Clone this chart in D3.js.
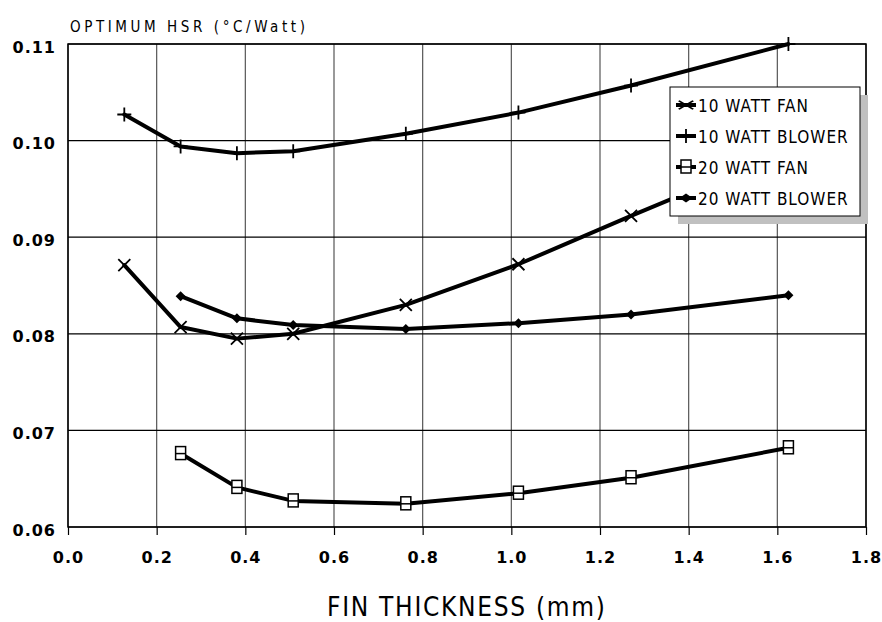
<!DOCTYPE html>
<html>
<head>
<meta charset="utf-8">
<script src="https://cdn.jsdelivr.net/npm/d3@7"></script>
<style>
  body { margin: 0; background: #fff; }
  text { font-family: "DejaVu Sans Condensed", "DejaVu Sans", sans-serif; fill: #000; }
</style>
</head>
<body>
<svg id="chart" width="882" height="622"></svg>
<script>
// fin thickness values (mm)
var thickness = [0.127, 0.254, 0.381, 0.508, 0.762, 1.016, 1.27, 1.625];

var fan10 = [0.0871, 0.0807, 0.0795, 0.0800, 0.0830, 0.0872, 0.0922, 0.0990];
var blower10 = [0.1027, 0.0994, 0.0987, 0.0989, 0.1007, 0.1029, 0.1057, 0.1100];
var fan20 = [null, 0.0676, 0.0641, 0.0627, 0.0624, 0.0635, 0.0651, 0.0682];
var blower20 = [null, 0.0839, 0.0816, 0.0809, 0.0805, 0.0811, 0.0820, 0.0840];

var seriesNames = ["10 WATT FAN", "10 WATT BLOWER", "20 WATT FAN", "20 WATT BLOWER"];
var seriesMarks = ["x", "plus", "square", "diamond"];
var xTicks = [0.0, 0.2, 0.4, 0.6, 0.8, 1.0, 1.2, 1.4, 1.6, 1.8];
var yTicks = [0.06, 0.07, 0.08, 0.09, 0.10, 0.11];

var svg = d3.select("#chart"),
  margin = {top: 44, right: 16, bottom: 95, left: 68},
  width = 866 - margin.left,
  height = 527 - margin.top,
  g = svg.append("g").attr("transform", "translate(" + margin.left + "," + margin.top + ")");

var x = d3.scaleLinear().domain([0, 1.8]).range([0, width]);
var y = d3.scaleLinear().domain([0.06, 0.11]).range([height, 0]);

// grid
g.selectAll(".vgrid").data(xTicks).enter().append("line")
  .attr("x1", function(d) { return x(d); }).attr("x2", function(d) { return x(d); })
  .attr("y1", 0).attr("y2", height)
  .attr("stroke", "#555").attr("stroke-width", 1.2);
g.selectAll(".hgrid").data(yTicks).enter().append("line")
  .attr("x1", 0).attr("x2", width)
  .attr("y1", function(d) { return y(d); }).attr("y2", function(d) { return y(d); })
  .attr("stroke", "#000").attr("stroke-width", 1.2);

// axes
var xAxis = g.append("g")
  .attr("transform", "translate(0," + height + ")")
  .call(d3.axisBottom(x).tickValues(xTicks).tickFormat(d3.format(".1f")).tickSize(8).tickPadding(17));
xAxis.selectAll("text").style("font-family", "'DejaVu Sans', sans-serif").style("font-size", "16px")
  .style("font-weight", "bold").style("letter-spacing", "1px");
var yAxis = g.append("g")
  .call(d3.axisLeft(y).tickValues(yTicks).tickFormat(d3.format(".2f")).tickSize(0).tickPadding(12));
yAxis.selectAll("text").style("font-family", "'DejaVu Sans', sans-serif").style("font-size", "16px")
  .style("font-weight", "bold").style("letter-spacing", "1px").attr("dy", "0.5em");
g.selectAll(".domain").remove();
g.selectAll(".tick line").attr("stroke", "#000").attr("stroke-width", 1.2);

g.append("rect").attr("width", width).attr("height", height)
  .attr("fill", "none").attr("stroke", "#000").attr("stroke-width", 1.5);

svg.append("text").attr("x", 70).attr("y", 32).style("font-size", "15px")
  .attr("textLength", 235).attr("lengthAdjust", "spacing")
  .text("OPTIMUM HSR (°C/Watt)");
svg.append("text").attr("x", 327).attr("y", 616)
  .style("font-size", "26px")
  .attr("textLength", 278).attr("lengthAdjust", "spacing")
  .text("FIN THICKNESS (mm)");

function marker(sel, type) {
  if (type == "x") {
    sel.append("path").attr("d", "M-6,-6L6,6M-6,6L6,-6").attr("stroke", "#000").attr("stroke-width", 1.8);
  } else if (type == "plus") {
    sel.append("path").attr("d", "M-7,0L7,0M0,-7L0,7").attr("stroke", "#000").attr("stroke-width", 1.8);
  } else if (type == "square") {
    sel.append("rect").attr("x", -5).attr("y", -7).attr("width", 10).attr("height", 13)
      .attr("fill", "none").attr("stroke", "#000").attr("stroke-width", 1.5);
    sel.append("path").attr("d", "M-5,0L5,0").attr("stroke", "#000").attr("stroke-width", 1.5);
  } else {
    sel.append("path").attr("d", "M-5,0L0,-5L5,0L0,5Z").attr("fill", "#000");
  }
}

var allSeries = [fan10, blower10, fan20, blower20];
var line = d3.line()
  .x(function(d) { return x(d.t); })
  .y(function(d) { return y(d.v); });

for (var i = 0; i < allSeries.length; i++) {
  var data = [];
  for (var j = 0; j < thickness.length; j++) {
    if (allSeries[i][j] != null) data.push({t: thickness[j], v: allSeries[i][j]});
  }
  g.append("path").datum(data)
    .attr("fill", "none").attr("stroke", "#000").attr("stroke-width", 4)
    .attr("stroke-linejoin", "round").attr("stroke-linecap", "round")
    .attr("d", line);
  for (var k = 0; k < data.length; k++) {
    var m = g.append("g").attr("transform", "translate(" + x(data[k].t) + "," + y(data[k].v) + ")");
    if (seriesMarks[i] == "square") {
      m.insert("rect").attr("x", -5).attr("y", -7).attr("width", 10).attr("height", 13).attr("fill", "#fff");
    }
    marker(m, seriesMarks[i]);
  }
}

// legend
var legendScale = {x: "scale(1.2,0.7)", plus: "", square: "", diamond: "scale(1.3,0.9)"};
var lg = svg.append("g").attr("transform", "translate(670,87)");
lg.append("rect").attr("x", 8).attr("y", 8).attr("width", 190).attr("height", 129).attr("fill", "#c0c0c0");
lg.append("rect").attr("width", 190).attr("height", 129).attr("fill", "#fff").attr("stroke", "#000").attr("stroke-width", 1);
for (var i = 0; i < seriesNames.length; i++) {
  var ry = 18 + i * 31;
  lg.append("line").attr("x1", 6).attr("x2", 26).attr("y1", ry).attr("y2", ry)
    .attr("stroke", "#000").attr("stroke-width", 4);
  var lm = lg.append("g").attr("transform", "translate(16," + ry + ") " + legendScale[seriesMarks[i]]);
  if (seriesMarks[i] == "square") {
    lm.append("rect").attr("x", -5).attr("y", -7).attr("width", 10).attr("height", 13).attr("fill", "#fff");
  }
  marker(lm, seriesMarks[i]);
  lg.append("text").attr("x", 28).attr("y", ry + 7).style("font-size", "17px")
    .style("letter-spacing", "1px").text(seriesNames[i]);
}
</script>
</body>
</html>
